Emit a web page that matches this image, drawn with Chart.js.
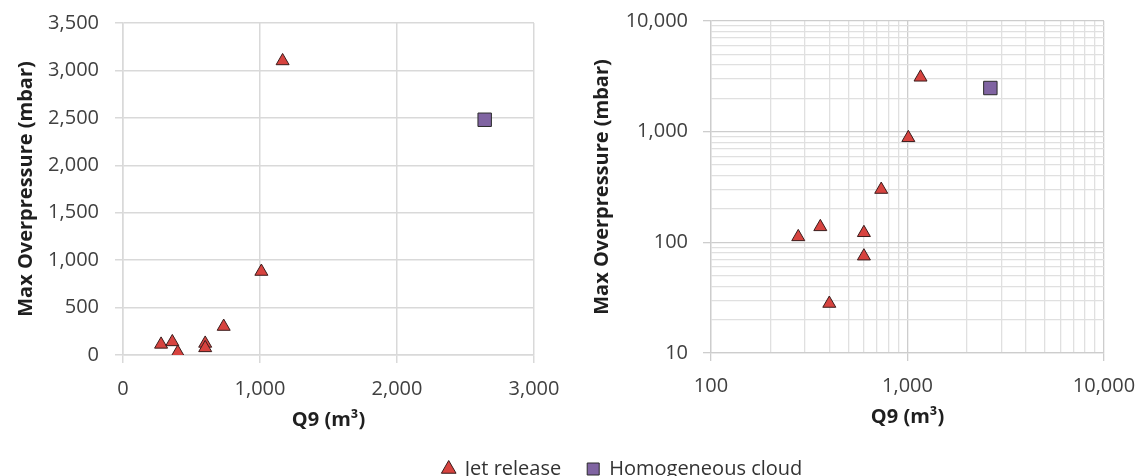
<!doctype html>
<html lang="en">
<head>
<meta charset="utf-8">
<title>Max overpressure vs Q9</title>
<script src="https://cdn.jsdelivr.net/npm/chart.js"></script>
<style>
body { margin: 0; background: #fff; }
#wrap { position: relative; width: 1139px; height: 476px; overflow: hidden; }
canvas { position: absolute; }
#linChart { left: 0; top: 0; }
#logChart { left: 570px; top: 0; }
#legendChart { left: 53px; top: 433px; }
</style>
</head>
<body>
<div id="wrap">
<canvas id="linChart" width="570" height="476"></canvas>
<canvas id="logChart" width="569" height="476"></canvas>
<canvas id="legendChart" width="1139" height="200"></canvas>
</div>
<script>
// Données
const jetQ9 = [278, 360, 400, 600, 600, 735, 1010, 1165];
const jetP = [112, 138, 28, 122, 75, 300, 880, 3100];
const cloudQ9 = [2640];
const cloudP = [2480];

const seriesNames = ['Jet release', 'Homogeneous cloud'];

const linXTicks = [0, 1000, 2000, 3000];
const linYTicks = [0, 500, 1000, 1500, 2000, 2500, 3000, 3500];
const logXRange = [100, 10000];
const logYRange = [10, 10000];

const FONT = "'Open Sans', 'Noto Sans', sans-serif";
const tickColor = '#404040';
const titleColor = '#1f1f1f';
const gridColor = '#d9d9d9';

const jetStyle = {
  pointStyle: 'triangle',
  pointRadius: 7.5,
  pointHoverRadius: 7.5,
  backgroundColor: '#d7433f',
  borderColor: '#3a1c1c',
  borderWidth: 1
};
const cloudStyle = {
  pointStyle: 'rect',
  pointRadius: 9.5,
  pointHoverRadius: 9.5,
  backgroundColor: '#8064a2',
  borderColor: '#2b2b2b',
  borderWidth: 1
};

function pts(xs, ys) {
  return xs.map((x, i) => ({ x: x, y: ys[i] }));
}

function fmt(v) {
  return Number(v).toLocaleString('en-US');
}

function datasets() {
  return [
    Object.assign({ label: seriesNames[0], data: pts(jetQ9, jetP) }, jetStyle),
    Object.assign({ label: seriesNames[1], data: pts(cloudQ9, cloudP) }, cloudStyle)
  ];
}

// toutes les valeurs 1..9 x 10^n d'une plage log
function logTicks(min, max) {
  const out = [];
  for (let e = Math.log10(min); e < Math.log10(max); e++) {
    for (let m = 1; m < 10; m++) out.push(m * Math.pow(10, e));
  }
  out.push(max);
  return out;
}
function isPow10(v) {
  const l = Math.log10(v);
  return Math.abs(l - Math.round(l)) < 1e-9;
}

// taille fixe des axes, sans marge automatique pour les étiquettes
function fixX(h) {
  return s => { s.height = h; s.paddingLeft = 0; s.paddingRight = 0; };
}
function fixY(w) {
  return s => { s.width = w; s.paddingTop = 0; s.paddingBottom = 0; };
}

function axisTitle(text) {
  return {
    display: true,
    text: text,
    color: titleColor,
    font: { family: FONT, size: 20, weight: 'bold' },
    padding: 4
  };
}

const tickFont = { family: FONT, size: 20 };

const common = {
  responsive: false,
  animation: false,
  devicePixelRatio: 1,
  plugins: { legend: { display: false }, tooltip: { enabled: false } }
};

// Graphique linéaire
new Chart(document.getElementById('linChart'), {
  type: 'scatter',
  data: { datasets: datasets() },
  options: Object.assign({}, common, {
    layout: { padding: { left: 10, right: 36, top: 23, bottom: 40 } },
    scales: {
      x: {
        type: 'linear',
        min: linXTicks[0],
        max: linXTicks[linXTicks.length - 1],
        afterBuildTicks: s => { s.ticks = linXTicks.map(v => ({ value: v })); },
        afterFit: fixX(81),
        grid: { color: gridColor, tickColor: gridColor, tickLength: 8, lineWidth: 1.5 },
        border: { color: gridColor, width: 1.5 },
        ticks: { color: tickColor, font: tickFont, padding: 14, maxRotation: 0, callback: fmt },
        title: axisTitle('Q9 (m³)')
      },
      y: {
        type: 'linear',
        min: linYTicks[0],
        max: linYTicks[linYTicks.length - 1],
        afterBuildTicks: s => { s.ticks = linYTicks.map(v => ({ value: v })); },
        afterFit: fixY(113),
        grid: { color: gridColor, tickColor: gridColor, tickLength: 8, lineWidth: 1.5 },
        border: { color: gridColor, width: 1.5 },
        ticks: { color: tickColor, font: tickFont, padding: 16, callback: fmt },
        title: axisTitle('Max Overpressure (mbar)')
      }
    }
  })
});

// Graphique log-log
function logAxis(range, title, fitFn, pad) {
  return {
    type: 'logarithmic',
    min: range[0],
    max: range[1],
    afterBuildTicks: s => { s.ticks = logTicks(range[0], range[1]).map(v => ({ value: v })); },
    afterFit: fitFn,
    grid: {
      color: c => (c.tick && isPow10(c.tick.value)) ? '#cdcdcd' : '#e0e0e0',
      tickColor: c => (c.tick && isPow10(c.tick.value)) ? '#cdcdcd' : 'rgba(0,0,0,0)',
      tickLength: 8,
      lineWidth: 1.3
    },
    border: { color: '#cdcdcd', width: 1.3 },
    ticks: {
      color: tickColor,
      font: tickFont,
      autoSkip: false,
      maxRotation: 0,
      padding: pad,
      callback: v => isPow10(v) ? fmt(v) : ''
    },
    title: axisTitle(title)
  };
}

new Chart(document.getElementById('logChart'), {
  type: 'scatter',
  data: { datasets: datasets() },
  options: Object.assign({}, common, {
    layout: { padding: { left: 16, right: 35, top: 21, bottom: 43 } },
    scales: {
      x: logAxis(logXRange, 'Q9 (m³)', fixX(80), 13),
      y: logAxis(logYRange, 'Max Overpressure (mbar)', fixY(125), 15)
    }
  })
});

// Légende commune
new Chart(document.getElementById('legendChart'), {
  type: 'scatter',
  data: {
    datasets: [
      Object.assign({ label: seriesNames[0], data: [] }, jetStyle),
      Object.assign({ label: seriesNames[1], data: [] }, cloudStyle)
    ]
  },
  options: {
    responsive: false,
    animation: false,
    devicePixelRatio: 1,
    layout: { padding: 0 },
    scales: { x: { display: false }, y: { display: false } },
    plugins: {
      tooltip: { enabled: false },
      legend: {
        display: true,
        position: 'top',
        labels: {
          usePointStyle: true,
          boxWidth: 12,
          boxHeight: 12,
          padding: 26,
          color: '#333',
          font: { family: FONT, size: 20 }
        }
      }
    }
  }
});
</script>
</body>
</html>
